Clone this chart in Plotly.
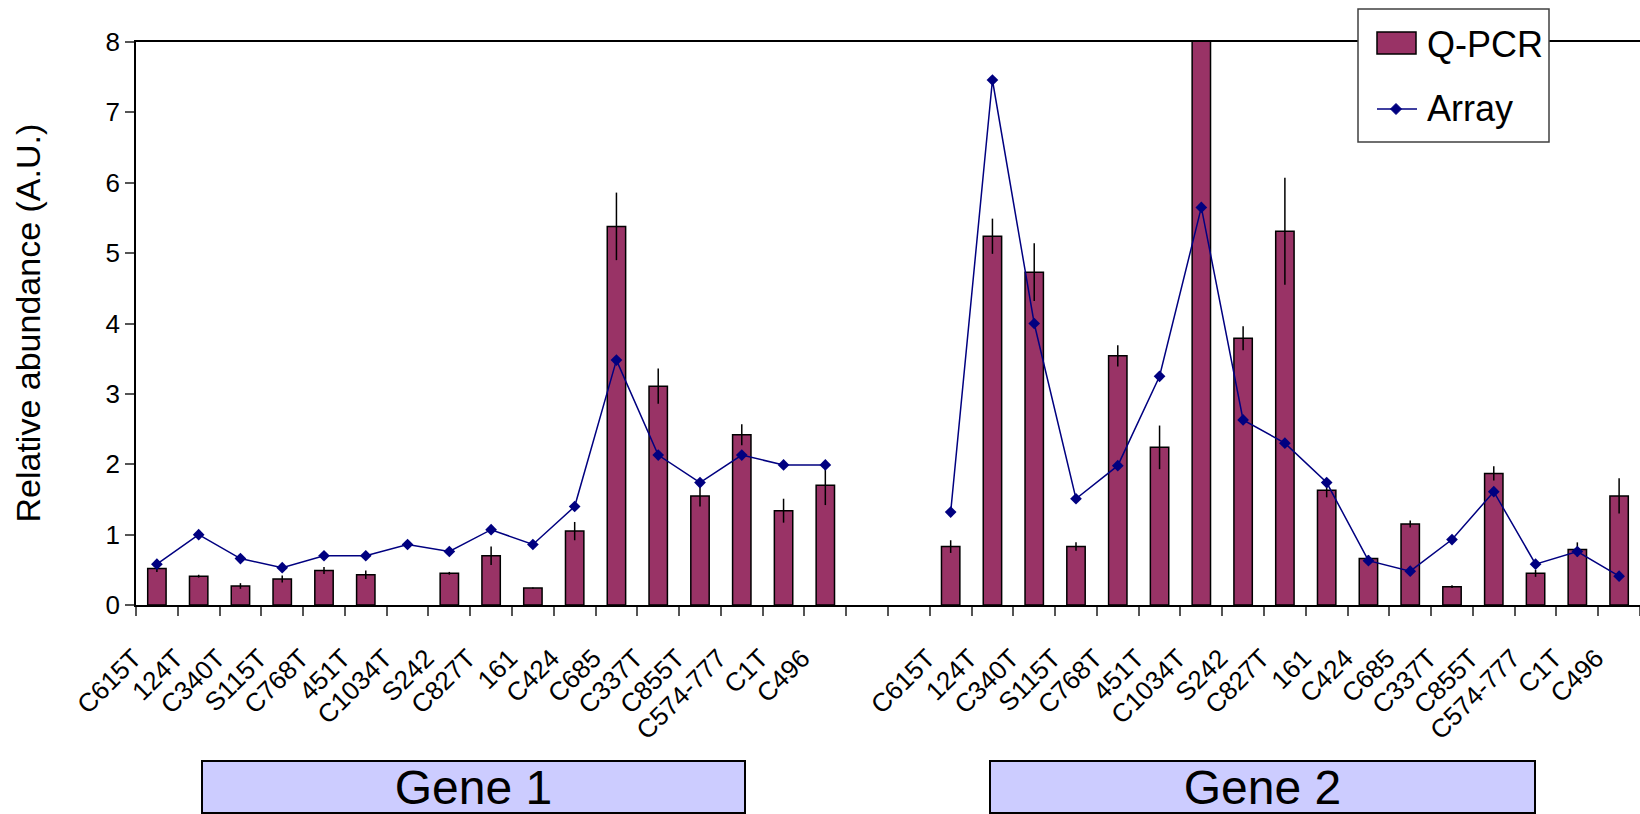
import plotly.graph_objects as go

# Probe names (same panel of probes for both genes)
probes = ["C615T", "124T", "C340T", "S115T", "C768T", "451T", "C1034T", "S242",
          "C827T", "161", "C424", "C685", "C337T", "C855T", "C574-777", "C1T", "C496"]

# Gene 1 measurements
gene1_qpcr = [0.52, 0.41, 0.27, 0.37, 0.49, 0.43, None, 0.45, 0.70, 0.24,
              1.05, 5.38, 3.11, 1.55, 2.42, 1.34, 1.70]
gene1_qpcr_err = [0.05, 0.02, 0.04, 0.05, 0.05, 0.06, 0.0, 0.02, 0.13, 0.01,
                  0.13, 0.48, 0.25, 0.15, 0.15, 0.17, 0.28]
gene1_array = [0.58, 1.00, 0.66, 0.53, 0.70, 0.70, 0.86, 0.76, 1.07, 0.86,
               1.40, 3.48, 2.13, 1.74, 2.13, 1.99, 1.99]

# Gene 2 measurements
gene2_qpcr = [0.83, 5.24, 4.73, 0.83, 3.54, 2.24, 8.60, 3.79, 5.31, 1.63,
              0.66, 1.15, 0.26, 1.87, 0.45, 0.79, 1.55]
gene2_qpcr_err = [0.09, 0.25, 0.41, 0.06, 0.15, 0.31, 0.0, 0.17, 0.76, 0.10,
                  0.05, 0.05, 0.02, 0.10, 0.05, 0.10, 0.25]
gene2_array = [1.32, 7.46, 4.00, 1.51, 1.98, 3.25, 5.65, 2.63, 2.30, 1.74,
               0.63, 0.48, 0.93, 1.61, 0.58, 0.76, 0.41]

gene_names = ["Gene 1", "Gene 2"]
series_names = ["Q-PCR", "Array"]
y_ticks = [0, 1, 2, 3, 4, 5, 6, 7, 8]
y_title = "Relative abundance (A.U.)"

# Category slots: gene 1, two empty slots, gene 2
n = len(probes)
gap_slots = 2
pos1 = list(range(n))
pos2 = [n + gap_slots + i for i in range(n)]
x_all = pos1 + [None] + pos2          # None breaks the line between genes
n_slots = 2 * n + gap_slots

qpcr = gene1_qpcr + [None] + gene2_qpcr
qpcr_err = gene1_qpcr_err + [0.0] + gene2_qpcr_err
array = gene1_array + [None] + gene2_array

FONT = "Arial, Liberation Sans, sans-serif"
BAR_COLOR = "#993366"
LINE_COLOR = "#000080"

fig = go.Figure()

fig.add_trace(go.Bar(
    x=x_all, y=qpcr, name=series_names[0],
    marker=dict(color=BAR_COLOR, line=dict(color="black", width=1.5)),
    error_y=dict(type="data", array=qpcr_err, color="black",
                 thickness=1.5, width=0),
))

fig.add_trace(go.Scatter(
    x=x_all, y=array, name=series_names[1], mode="lines+markers",
    connectgaps=False,
    line=dict(color=LINE_COLOR, width=1.5),
    marker=dict(symbol="diamond", size=9, color=LINE_COLOR),
))

# Plot area geometry (pixels)
W, H = 1640, 814
m_l, m_r, m_t, m_b = 136, 0, 42, 209
plot_w = W - m_l - m_r
plot_h = H - m_t - m_b


def px_x(px):
    return (px - m_l) / plot_w


def px_y(py):
    return (H - m_b - py) / plot_h


boundaries = [i - 0.5 for i in range(n_slots + 1)]

fig.update_layout(
    width=W, height=H,
    margin=dict(l=m_l, r=m_r, t=m_t, b=m_b, autoexpand=False),
    plot_bgcolor="white", paper_bgcolor="white",
    bargap=0.56,
    font=dict(family=FONT, color="black"),
    showlegend=False,
    xaxis=dict(
        range=[-0.5, n_slots - 0.5],
        tickmode="array",
        tickvals=pos1 + pos2,
        ticktext=probes + probes,
        tickangle=-45,
        tickfont=dict(size=26, family=FONT),
        ticks="",
        ticklabelshift=-23, ticklabelstandoff=26,
        showgrid=False, zeroline=False,
        showline=True, linecolor="black", linewidth=1.5, mirror=True,
        minor=dict(tickmode="array", tickvals=boundaries, ticks="outside",
                   ticklen=9, tickcolor="#555555", tickwidth=1.5,
                   showgrid=False),
    ),
    yaxis=dict(
        range=[0, 8],
        tickmode="array", tickvals=y_ticks,
        ticks="outside", ticklen=9, tickcolor="#555555", tickwidth=1.5,
        tickfont=dict(size=26, family=FONT),
        showgrid=False, zeroline=False,
        showline=True, linecolor="black", linewidth=1.5,
    ),
)

# Axis title
fig.add_annotation(
    xref="paper", yref="paper", x=px_x(27), y=0.5,
    xanchor="center", yanchor="middle", textangle=-90,
    text=y_title, showarrow=False,
    font=dict(size=34, family=FONT, color="black"),
)

# Legend box, drawn with shapes so the bar swatch is a wide rectangle
lg_box = (1358, 9, 1549, 142)
fig.add_shape(type="rect", xref="paper", yref="paper",
              x0=px_x(lg_box[0]), x1=px_x(lg_box[2]),
              y0=px_y(lg_box[3]), y1=px_y(lg_box[1]),
              fillcolor="white", line=dict(color="#404040", width=1.5),
              layer="above")
# bar swatch
fig.add_shape(type="rect", xref="paper", yref="paper",
              x0=px_x(1377), x1=px_x(1416), y0=px_y(54), y1=px_y(32),
              fillcolor=BAR_COLOR, line=dict(color="black", width=1.5),
              layer="above")
# line swatch with diamond marker
fig.add_shape(type="line", xref="paper", yref="paper",
              x0=px_x(1377), x1=px_x(1417), y0=px_y(109), y1=px_y(109),
              line=dict(color=LINE_COLOR, width=1.5), layer="above")
cx, cy, r = 1396, 109, 5.5
diamond = "M {} {} L {} {} L {} {} L {} {} Z".format(
    px_x(cx), px_y(cy - r), px_x(cx + r), px_y(cy),
    px_x(cx), px_y(cy + r), px_x(cx - r), px_y(cy))
fig.add_shape(type="path", xref="paper", yref="paper", path=diamond,
              fillcolor=LINE_COLOR, line=dict(color=LINE_COLOR, width=1),
              layer="above")
for name, ty in zip(series_names, [44, 108]):
    fig.add_annotation(
        xref="paper", yref="paper", x=px_x(1425), y=px_y(ty),
        xanchor="left", yanchor="middle", text=name, showarrow=False,
        font=dict(size=36, family=FONT, color="black"),
    )

# Gene group boxes under the probe labels
box_spans = [(202, 745), (990, 1535)]
for name, (x0, x1) in zip(gene_names, box_spans):
    fig.add_annotation(
        xref="paper", yref="paper",
        x=(px_x(x0) + px_x(x1)) / 2, y=px_y(787),
        xanchor="center", yanchor="middle",
        text=name, showarrow=False,
        width=x1 - x0 - 4, height=48,
        bgcolor="#CCCCFF", bordercolor="black", borderwidth=2,
        font=dict(size=48, family=FONT, color="black"),
    )

fig.write_html("out.html")
